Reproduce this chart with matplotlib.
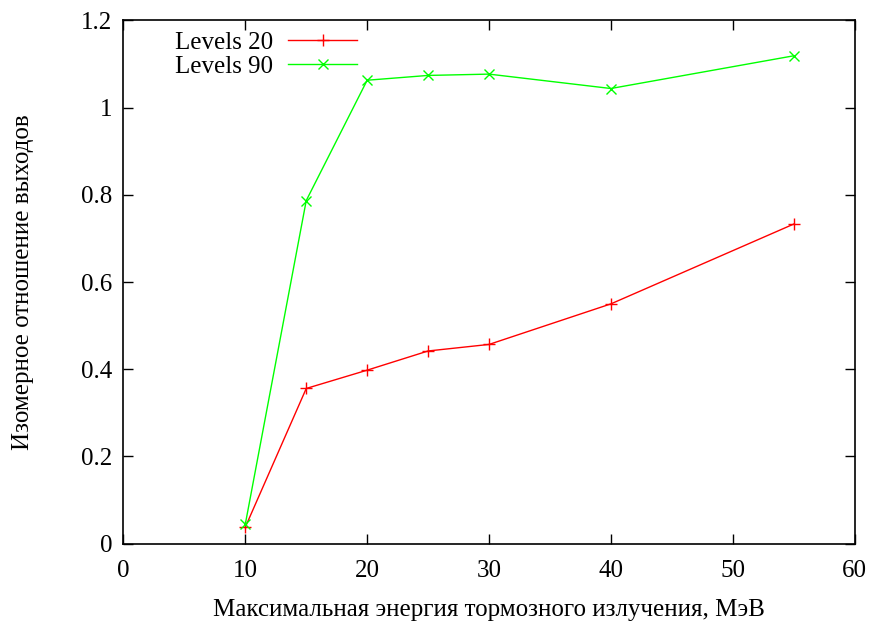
import matplotlib
matplotlib.use("Agg")
import matplotlib.pyplot as plt

energy = [10, 15, 20, 25, 30, 40, 55]
levels20 = [0.038, 0.356, 0.398, 0.442, 0.457, 0.550, 0.733]
levels90 = [0.045, 0.787, 1.063, 1.074, 1.077, 1.044, 1.119]
series_names = ["Levels 20", "Levels 90"]
xticks = [0, 10, 20, 30, 40, 50, 60]
yticks = [0, 0.2, 0.4, 0.6, 0.8, 1.0, 1.2]
ytick_labels = ["0", "0.2", "0.4", "0.6", "0.8", "1", "1.2"]
xlabel = "Максимальная энергия тормозного излучения, МэВ"
ylabel = "Изомерное отношение выходов"

plt.rcParams['font.family'] = ['Liberation Serif', 'DejaVu Serif']
plt.rcParams['font.size'] = 18

fig = plt.figure(figsize=(8.72, 6.21), dpi=100)
ax = fig.add_axes([0.1416, 0.1245, 0.980 - 0.1416, 0.967 - 0.1245])

ax.plot(energy, levels20, color='#ff0000', lw=1.0, marker='+', ms=8, mew=1.0, label=series_names[0])
ax.plot(energy, levels90, color='#00ff00', lw=1.0, marker='x', ms=7, mew=1.0, label=series_names[1])

ax.set_xlim(0, 60)
ax.set_ylim(0, 1.2)
ax.set_xticks(xticks)
ax.set_yticks(yticks)
ax.set_yticklabels(ytick_labels)
ax.tick_params(axis='x', direction='in', length=7, width=1, top=True, pad=12)
ax.tick_params(axis='y', direction='in', length=7, width=1, right=True, pad=8)
for s in ax.spines.values():
    s.set_linewidth(1.2)

ax.set_xlabel(xlabel, labelpad=12)
ax.set_ylabel(ylabel, labelpad=34)

leg = ax.legend(loc='upper left', bbox_to_anchor=(0.052, 1.005), frameon=False,
                markerfirst=False, handlelength=2.75, handletextpad=0.6,
                labelspacing=0.05, borderaxespad=0.15, fontsize=18)

fig.savefig("out.png", dpi=100)
